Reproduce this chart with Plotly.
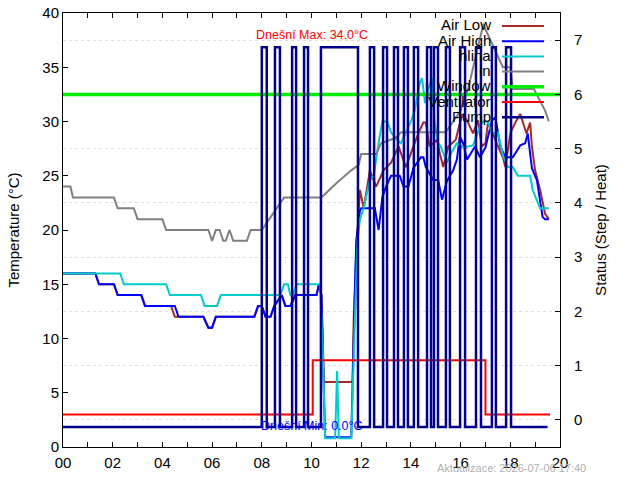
import plotly.graph_objects as go

# ---------------- data ----------------
hour_ticks = list(range(0, 21))
hour_labels = [f"{h:02d}" if h % 2 == 0 else "" for h in hour_ticks]

air_low_x = [0, 1.3, 1.45, 2.05, 2.2, 3.15, 3.3, 4.35, 4.5, 5.65, 5.85, 6.0, 6.15, 7.7, 7.85, 8.0, 8.15, 8.35, 8.5,
             8.8, 8.95, 9.15, 9.35, 10.2, 10.3, 10.4, 10.5, 11.65, 11.7, 11.8, 11.95, 12.1, 12.35, 12.6, 12.9, 13.2,
             13.5, 13.8, 14.1, 14.3, 14.5, 14.6, 14.75, 15.05, 15.17, 15.3, 15.5, 15.8, 16.0, 16.1, 16.3, 16.5, 16.7,
             16.85, 17.0, 17.1, 17.3, 17.45, 17.7, 17.8, 18.0, 18.2, 18.4, 18.5, 18.65, 18.8, 18.87, 19.0, 19.2,
             19.4, 19.55]
air_low_y = [16, 16, 15, 15, 14, 14, 13, 13, 12, 12, 11, 11, 12, 12, 13, 13, 12, 12, 13,
             14, 13, 13, 14, 14, 15, 14, 6, 6, 12, 18, 23.7, 22, 25.5, 24, 25.5, 26.2,
             27.7, 25.8, 27.7, 28.9, 29.9, 29.9, 27.7, 28.3, 27, 25.8, 27.7, 28.3, 30.1, 30.7, 29.9, 28.9, 30.1,
             27.7, 28, 29.9, 28.9, 28, 26.7, 25.8, 28.9, 29.9, 30.7, 29.9, 28.9, 29.9, 27.7, 25.5, 23.7,
             21.5, 21]

air_high_x = [0, 1.3, 1.45, 2.05, 2.2, 3.15, 3.3, 4.5, 4.65, 5.65, 5.85, 6.0, 6.15, 7.7, 7.85, 8.0, 8.15, 8.35, 8.5,
              8.8, 8.95, 9.15, 9.35, 10.2, 10.3, 10.4, 10.5, 10.55, 11.6, 11.7, 11.8, 11.95, 12.0, 12.55, 12.7,
              12.85, 13.0, 13.2, 13.55, 13.7, 13.9, 14.1, 14.4, 14.5, 14.6, 14.9, 15.1, 15.25, 15.45, 15.7, 15.85,
              15.97, 16.1, 16.26, 16.58, 16.78, 17.0, 17.26, 17.4, 17.6, 17.8, 18.1, 18.4, 18.6, 18.7, 18.87,
              19.07, 19.3, 19.4, 19.55]
air_high_y = [16, 16, 15, 15, 14, 14, 13, 13, 12, 12, 11, 11, 12, 12, 13, 13, 12, 12, 13,
              14, 13, 13, 14, 14, 15, 14, 5, 0.9, 0.9, 10, 19, 21.8, 22, 22, 20,
              23, 24, 25, 25, 24, 24, 25.7, 26.7, 26.7, 25.8, 24.6, 24.6, 22.8, 24.5, 25.5, 26.5,
              28.6, 28, 26.5, 27.7, 26.7, 27.6, 30.1, 30.4, 27.7, 26.7, 26.7, 27.8, 28, 28.9, 25.7,
              24.6, 21.2, 21, 21]

hlina_x = [0, 2.3, 2.45, 4.15, 4.3, 5.55, 5.7, 6.2, 6.35, 8.75, 8.9, 9.05, 9.15, 9.25, 9.4, 10.35, 10.45, 10.55,
           10.95, 11.03, 11.1, 11.6, 11.75, 11.85, 11.95, 12.1, 12.35, 12.5, 12.7, 12.85, 13.05, 13.2, 13.45, 13.6,
           13.8, 14.0, 14.15, 14.25, 14.35, 14.45, 14.57, 14.7, 14.85, 14.95, 15.1, 15.2, 15.45, 15.6, 15.85, 16.1,
           16.5, 16.78, 16.9, 17.1, 17.26, 17.5, 17.7, 17.9, 18.1, 18.3, 18.8, 18.9, 19.2, 19.55]
hlina_y = [16, 16, 15, 15, 14, 14, 13, 13, 14, 14, 15, 15, 14, 14, 15, 15, 9, 0.8,
           0.8, 7, 0.8, 0.8, 12, 19, 21, 22, 24.6, 25, 28, 30, 30, 29, 28.3, 28,
           29, 30, 31, 32.3, 33.5, 34, 31.7, 33, 34, 30, 28, 27.7, 26.2, 27, 28, 27.6,
           27.8, 29.5, 30, 30, 28.9, 29, 26.9, 25.8, 25.8, 25, 25, 23.7, 22, 22]

inside_x = [0, 0.3, 0.4, 2.05, 2.2, 2.85, 3.0, 4.0, 4.15, 5.85, 6.0, 6.15, 6.3, 6.45, 6.55, 6.7, 6.85, 7.4, 7.55,
            8.0, 8.3, 8.6, 8.9, 10.4, 10.7, 11.0, 11.3, 11.6, 11.9, 12.0, 12.6, 12.8, 13.4, 13.6, 15.4, 16.0,
            16.3, 16.6, 16.92, 17.0, 17.3, 17.7, 18.0, 18.1, 18.95, 19.4, 19.55]
inside_y = [24, 24, 23, 23, 22, 22, 21, 21, 20, 20, 19, 20, 20, 19, 19, 20, 19, 19, 20,
            20, 21, 22, 23, 23, 23.7, 24.3, 24.9, 25.5, 26, 27, 27, 28, 28.5, 29, 29, 31,
            33, 36, 39, 38.5, 37, 35, 35, 33, 33, 31, 30]

window_x = [0, 20]
window_y = [6, 6]

vent_x = [0, 10.05, 17.0, 19.6]
vent_y = [0.1, 1.1, 0.1, 0.1]

pump_on = [8.0, 8.53, 9.22, 9.7, 10.38, 12.35, 12.88, 13.32, 13.72, 14.12, 14.65, 14.93, 15.41, 15.98, 16.62,
           17.26, 17.83]
pump_off = [8.2, 8.73, 9.38, 9.86, 11.87, 12.52, 13.04, 13.48, 13.88, 14.29, 14.81, 15.09, 15.57, 16.18, 16.82,
            17.42, 18.03]
pump_end = 19.5
pump_low, pump_high = -0.13, 6.87

pump_x, pump_y = [0], [pump_low]
for a, b in zip(pump_on, pump_off):
    pump_x += [a, b]
    pump_y += [pump_high, pump_low]
pump_x.append(pump_end)
pump_y.append(pump_low)

series = [
    ("Air Low", air_low_x, air_low_y, "#a52a2a", 2, "y", "linear"),
    ("Air High", air_high_x, air_high_y, "#0000ff", 2, "y", "linear"),
    ("hlina", hlina_x, hlina_y, "#00cccc", 2, "y", "linear"),
    ("in", inside_x, inside_y, "#808080", 2, "y", "linear"),
    ("Window", window_x, window_y, "#00ee00", 3.5, "y2", "linear"),
    ("Ventilator", vent_x, vent_y, "#ff0000", 2, "y2", "hv"),
    ("Pump", pump_x, pump_y, "#00008b", 2.5, "y2", "hv"),
]

FONT = "Liberation Sans, Arial, sans-serif"

fig = go.Figure()
for name, xs, ys, col, w, ax, shape in series:
    fig.add_trace(go.Scatter(x=xs, y=ys, mode="lines", name=name, yaxis=ax,
                             line=dict(color=col, width=w, shape=shape), showlegend=False))

# plot geometry (px) for legend placement
L, R, T, B = 63, 560, 13, 447
def px(x):
    return (x - L) / (R - L)
def py(y):
    return (B - y) / (B - T)

annotations = []
shapes = []
for i, (name, xs, ys, col, w, ax, shape) in enumerate(series):
    yc = 25 + 15.2 * i
    annotations.append(dict(x=px(493), y=py(yc), xref="paper", yref="paper", text=name, showarrow=False,
                            xanchor="right", yanchor="middle", font=dict(family=FONT, size=15, color="#000")))
    shapes.append(dict(type="line", xref="paper", yref="paper", x0=px(502), x1=px(544),
                       y0=py(yc + 1), y1=py(yc + 1), line=dict(color=col, width=w)))

annotations.append(dict(x=10, y=38, xref="x", yref="y", text="Dnešní Max: 34.0°C", showarrow=False,
                        xanchor="center", yanchor="middle", font=dict(family=FONT, size=12.5, color="#ff0000")))
annotations.append(dict(x=10, y=1.95, xref="x", yref="y", text="Dnešní Min: 0.0°C", showarrow=False,
                        xanchor="center", yanchor="middle", font=dict(family=FONT, size=12.5, color="#0000ff")))
annotations.append(dict(x=px(588), y=py(468), xref="paper", yref="paper", text="Aktualizace: 2026-07-06 17:40",
                        showarrow=False, xanchor="right", yanchor="middle",
                        font=dict(family=FONT, size=11, color="#b0b0b0")))

fig.update_layout(
    width=640, height=480,
    margin=dict(l=L, r=640 - R, t=T, b=480 - B, autoexpand=False),
    paper_bgcolor="white", plot_bgcolor="white",
    font=dict(family=FONT, size=15, color="#000"),
    showlegend=False,
    xaxis=dict(range=[0, 20], tickvals=hour_ticks, ticktext=hour_labels, ticks="inside", ticklen=5,
               tickcolor="#000", showline=True, linecolor="#000", linewidth=1, mirror="ticks",
               showgrid=False, zeroline=False, tickfont=dict(size=15), ticklabelstandoff=2),
    yaxis=dict(range=[0, 40], tickvals=list(range(0, 41, 5)), ticks="inside", ticklen=5, tickcolor="#000",
               showline=True, linecolor="#000", linewidth=1, showgrid=False, zeroline=False,
               tickfont=dict(size=15), title=dict(text="Temperature (°C)", font=dict(size=15), standoff=19)),
    yaxis2=dict(range=[-0.5, 7.5], overlaying="y", side="right", tickvals=list(range(0, 8)), ticks="inside",
                ticklen=5, tickcolor="#000", showline=True, linecolor="#000", linewidth=1,
                showgrid=True, gridcolor="#dddddd", griddash="dot", gridwidth=1, zeroline=False,
                tickfont=dict(size=15), ticklabelstandoff=10,
                title=dict(text="Status (Step / Heat)", font=dict(size=15), standoff=14)),
    annotations=annotations,
    shapes=shapes,
)

fig.write_html("out.html")
